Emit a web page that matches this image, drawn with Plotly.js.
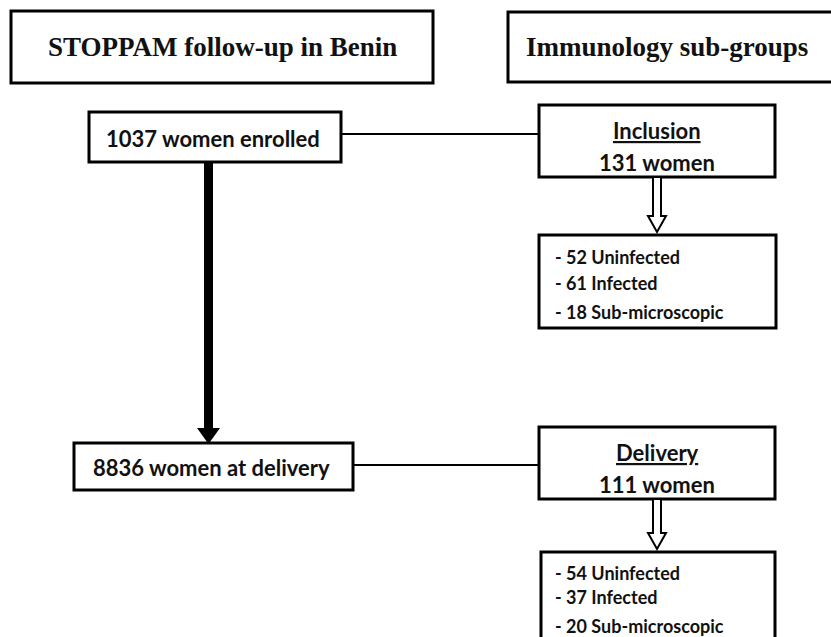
<!DOCTYPE html>
<html>
<head>
<meta charset="utf-8">
<script src="https://cdn.plot.ly/plotly-3.0.1.min.js"></script>
<style>html,body{margin:0;padding:0;background:#fff;}#chart{width:831px;height:637px;}</style>
</head>
<body>
<div id="chart"></div>
<script>
// ---- Data ----
const headers = ["STOPPAM follow-up in Benin", "Immunology sub-groups"];
const stages = ["Inclusion", "Delivery"];
const cohortCounts = [1037, 8836];
const cohortLabels = ["women enrolled", "women at delivery"];
const subgroupTotals = [131, 111];
const uninfected = [52, 54];
const infected = [61, 37];
const subMicroscopic = [18, 20];

// ---- Layout geometry (pixels in a 831x637 frame) ----
const serif = "Liberation Serif, Times New Roman, serif";
const sans = "Lato, Open Sans, sans-serif";
const shapes = [];
const annotations = [];
const BW = 3;

function box(x0, y0, x1, y1, w) {
  shapes.push({type: 'rect', xref: 'x', yref: 'y', x0, y0, x1, y1,
    line: {color: '#000', width: w || BW}, fillcolor: 'rgba(0,0,0,0)'});
}
function line(x0, y0, x1, y1, w) {
  shapes.push({type: 'line', xref: 'x', yref: 'y', x0, y0, x1, y1,
    line: {color: '#000', width: w || 2}});
}
function text(t, x, y, size, font, xanchor, weight) {
  annotations.push({text: t, x, y, xref: 'x', yref: 'y', showarrow: false,
    xanchor: xanchor || 'center', yanchor: 'middle',
    font: {family: font, size, color: '#111', weight: weight || 'bold'}});
}
function hollowArrow(cx, y0, y1) {
  const sw = 4, hw = 9, hh = 16;
  const p = `M${cx - sw},${y0} L${cx - sw},${y1 - hh} L${cx - hw},${y1 - hh} L${cx},${y1} L${cx + hw},${y1 - hh} L${cx + sw},${y1 - hh} L${cx + sw},${y0} Z`;
  shapes.push({type: 'path', xref: 'x', yref: 'y', path: p,
    line: {color: '#000', width: 2}, fillcolor: '#fff'});
}

// headers
box(11, 11, 433, 83);
text(headers[0], 222, 47, 27, serif);
box(508, 12, 845, 82);
text(headers[1], 667, 47, 27, serif);

// cohort boxes
const cohortBoxes = [[89, 112, 341, 162], [74, 443, 353, 490]];
const cohortLineY = [134, 465];
cohortBoxes.forEach((b, i) => {
  box(b[0], b[1], b[2], b[3]);
  text(cohortCounts[i] + ' ' + cohortLabels[i], (b[0] + b[2]) / 2 - 2, (b[1] + b[3]) / 2 + 1, 22, sans);
});

// thick arrow between cohort boxes
shapes.push({type: 'rect', xref: 'x', yref: 'y', x0: 204, x1: 213, y0: 162, y1: 430,
  line: {width: 0}, fillcolor: '#000'});
shapes.push({type: 'path', xref: 'x', yref: 'y', path: 'M197,428 L220,428 L208.5,444 Z',
  line: {width: 0}, fillcolor: '#000'});

// stage boxes
const stageBoxes = [[539, 105, 775, 177], [539, 427, 775, 499]];
const subBoxes = [[539, 235, 776, 328], [541, 552, 775, 660]];
const subLineY = [[257, 283, 312], [573, 597, 626]];
stageBoxes.forEach((b, i) => {
  line(cohortBoxes[i][2], cohortLineY[i], b[0], cohortLineY[i], 2);
  box(b[0], b[1], b[2], b[3]);
  text('<u>' + stages[i] + '</u>', 657, b[1] + 25, 22, sans);
  text(subgroupTotals[i] + ' women', 657, b[1] + 57, 22, sans);
  const s = subBoxes[i];
  hollowArrow(657, b[3], s[1] - 3);
  box(s[0], s[1], s[2], s[3]);
  const rows = ['- ' + uninfected[i] + ' Uninfected', '- ' + infected[i] + ' Infected', '- ' + subMicroscopic[i] + ' Sub-microscopic'];
  rows.forEach((r, k) => text(r, 553, subLineY[i][k], 18, sans, 'left'));
});

const layout = {
  width: 831, height: 637,
  margin: {l: 0, r: 0, t: 0, b: 0},
  paper_bgcolor: '#fff', plot_bgcolor: '#fff',
  xaxis: {range: [0, 831], visible: false, fixedrange: true},
  yaxis: {range: [637, 0], visible: false, fixedrange: true},
  shapes, annotations, showlegend: false
};
Plotly.newPlot('chart', [], layout, {staticPlot: true, displayModeBar: false});
</script>
</body>
</html>
